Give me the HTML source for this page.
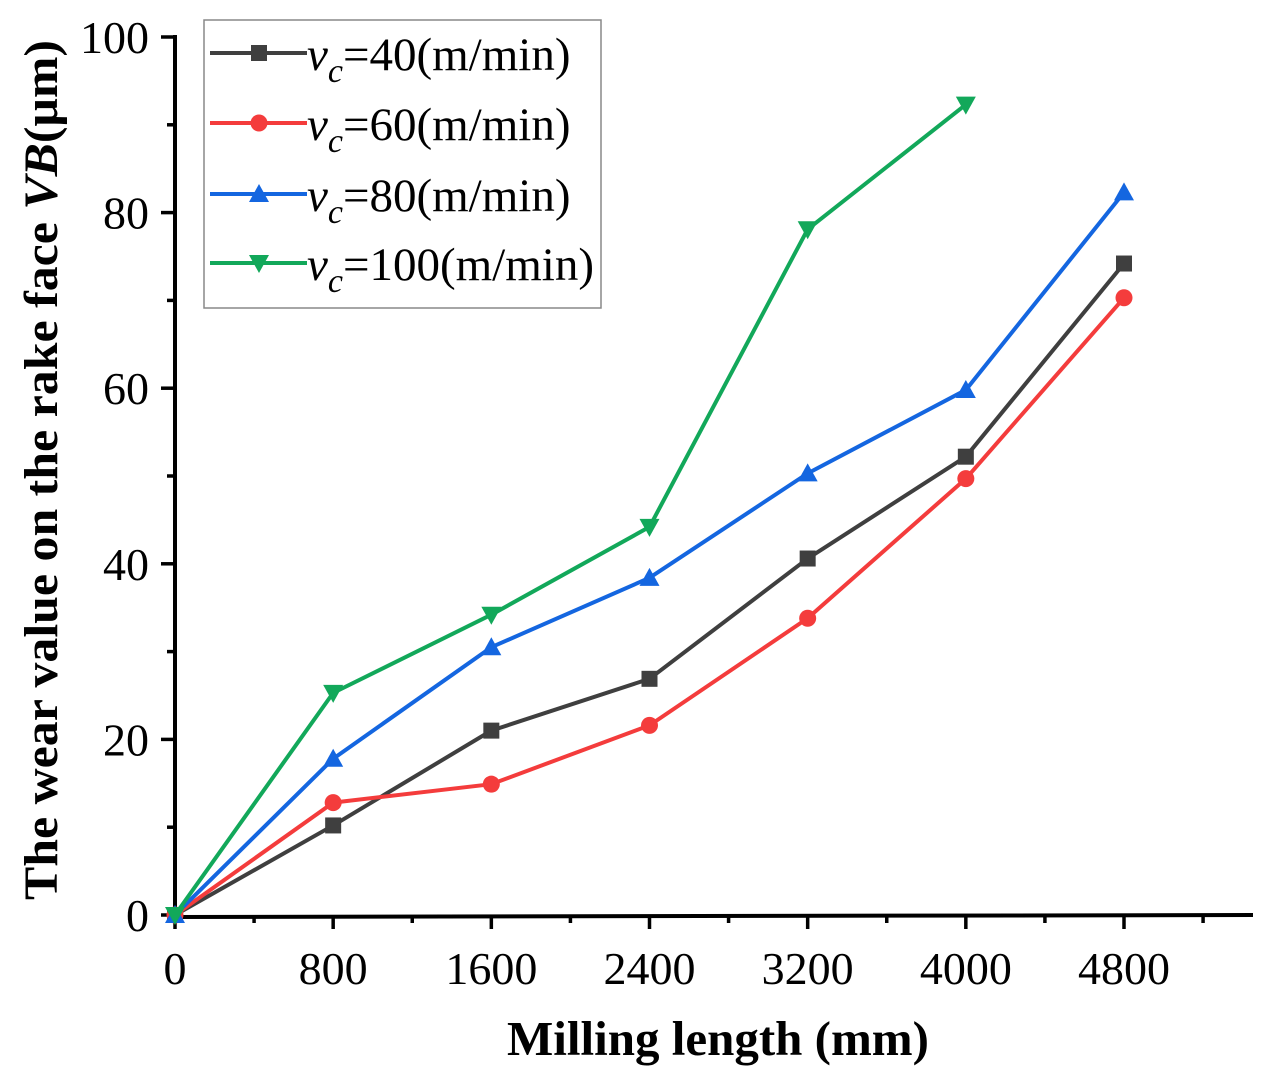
<!DOCTYPE html>
<html><head><meta charset="utf-8"><style>
html,body{margin:0;padding:0;background:#fff;}
svg{display:block;font-family:"Liberation Serif",serif;}
</style></head><body>
<svg id="chart" width="1287" height="1081" viewBox="0 0 1287 1081" xmlns="http://www.w3.org/2000/svg">
<g id="axes"></g>
<g id="series"></g>
<g id="legend"></g>
<text x="718" y="1055" text-anchor="middle" font-size="49" font-weight="bold">Milling length (mm)</text>
<text transform="translate(57,470) rotate(-90)" text-anchor="middle" font-size="48" font-weight="bold" textLength="860" lengthAdjust="spacingAndGlyphs">The wear value on the rake face <tspan font-style="italic">VB</tspan>(μm)</text>
</svg>
<script>
const categories = [0, 800, 1600, 2400, 3200, 4000, 4800];
const seriesNames = ["40", "60", "80", "100"];
const v40 = [0, 10.2, 21.0, 26.9, 40.6, 52.2, 74.2];
const v60 = [0, 12.8, 14.9, 21.6, 33.8, 49.7, 70.3];
const v80 = [0, 17.8, 30.5, 38.4, 50.3, 59.8, 82.3];
const v100 = [0, 25.3, 34.2, 44.2, 78.1, 92.3];
const xTicks = [0, 800, 1600, 2400, 3200, 4000, 4800];
const yTicks = [0, 20, 40, 60, 80, 100];

const NS = "http://www.w3.org/2000/svg";
const X0 = 175, X1 = 1124, Y0 = 915, Y1 = 37;
const xS = v => X0 + (v / 4800) * (X1 - X0);
const yS = v => Y0 - (v / 100) * (Y0 - Y1);
function mk(tag, attrs, parent){const e=document.createElementNS(NS,tag);for(const k in attrs)e.setAttribute(k,attrs[k]);parent.appendChild(e);return e;}

const axes = document.getElementById("axes");
let el = mk("line",{x1:X0,y1:Y0+2,x2:1253,y2:Y0,stroke:"#000","stroke-width":4},axes);


el = mk("line",{x1:X0,y1:Y0+2,x2:X0,y2:Y1-2,stroke:"#000","stroke-width":4},axes);


for (let v = 0; v <= 5400; v += 400) {
  const major = v % 800 === 0;
  const t = mk("line",{x1:xS(v),y1:Y0,x2:xS(v),y2:Y0+(major?14:8),stroke:"#000","stroke-width":3.5},axes);
  
  
}
xTicks.forEach(v=>{
  const t = mk("text",{x:xS(v),y:984,"text-anchor":"middle","font-size":46},axes);
  t.textContent = v;
  
  
});
for (let v = 0; v <= 100; v += 10) {
  const major = v % 20 === 0;
  const t = mk("line",{x1:X0,y1:yS(v),x2:X0-(major?14:8),y2:yS(v),stroke:"#000","stroke-width":3.5},axes);
  
  
}
yTicks.forEach(v=>{
  const t = mk("text",{x:149,y:yS(v)+16,"text-anchor":"end","font-size":46},axes);
  t.textContent = v;
  
  
});

const colors = ["#3f3f3f", "#f43c3c", "#1466e0", "#12a85a"];
const shapes = ["square", "circle", "up", "down"];
const allData = [v40, v60, v80, v100];
function marker(shape, x, y, c, parent){
  let m;
  if (shape==="square") m = mk("rect",{x:x-8,y:y-8,width:16,height:16,fill:c},parent);
  else if (shape==="circle") m = mk("circle",{cx:x,cy:y,r:8.5,fill:c},parent);
  else if (shape==="up") m = mk("polygon",{points:`${x},${y-10} ${x-10},${y+8} ${x+10},${y+8}`,fill:c},parent);
  else m = mk("polygon",{points:`${x},${y+10} ${x-10},${y-8} ${x+10},${y-8}`,fill:c},parent);
  return m;
}
const sg = document.getElementById("series");
allData.forEach((d,i)=>{
  const pts = d.map((v,j)=>xS(categories[j])+","+yS(v)).join(" ");
  const pl = mk("polyline",{points:pts,fill:"none",stroke:colors[i],"stroke-width":4,"stroke-linejoin":"round"},sg);
  
  
  d.forEach((v,j)=>{
    const m = marker(shapes[i], xS(categories[j]), yS(v), colors[i], sg);
    
    
  });
});

const lg = document.getElementById("legend");
el = mk("rect",{x:204,y:20,width:397,height:288,fill:"#fff",stroke:"#888","stroke-width":1.5},lg);


const ly = [53, 123, 194, 263];
seriesNames.forEach((n,i)=>{
  const g = mk("g",{},lg);
  
  
  mk("line",{x1:210,y1:ly[i],x2:307,y2:ly[i],stroke:colors[i],"stroke-width":4},g);
  marker(shapes[i],259,ly[i],colors[i],g);
  const t = mk("text",{x:307,y:ly[i]+17,"font-size":47},g);
  t.innerHTML = '<tspan font-style="italic">v</tspan><tspan font-style="italic" font-size="34" dy="12">c</tspan><tspan dy="-12">=' + n + '(m/min)</tspan>';
});
</script>
</body></html>
